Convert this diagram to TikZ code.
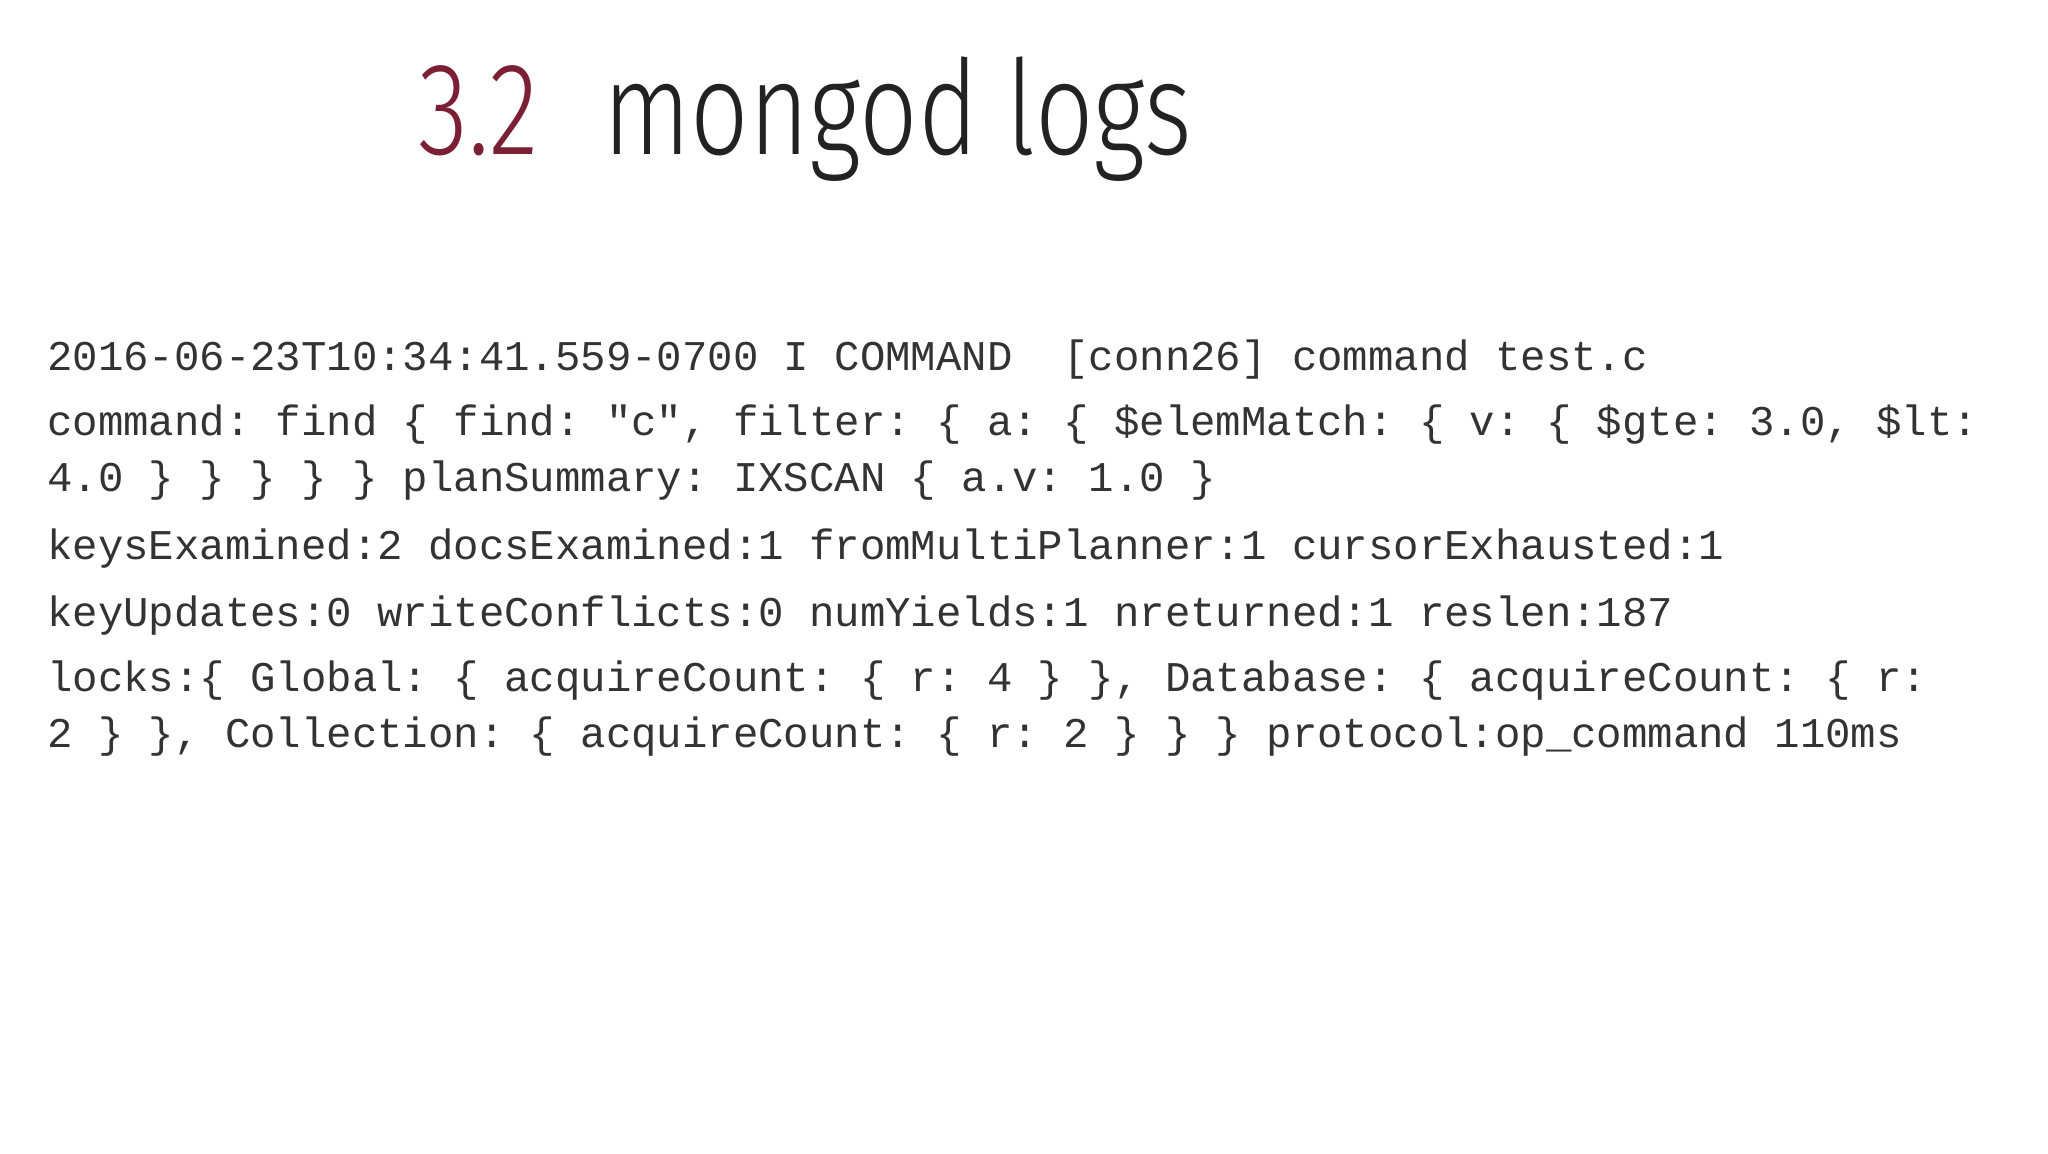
\documentclass[tikz,border=0pt]{standalone}
\usepackage{fontspec}
\setmonofont{Liberation Mono}
\newfontfamily\titlefont[FakeStretch=0.78]{Fira Sans Light}
\definecolor{titred}{HTML}{7B1F35}
\definecolor{titdark}{HTML}{222222}
\definecolor{logtxt}{HTML}{333333}
\begin{document}
\begin{tikzpicture}[x=1bp,y=-1bp,
  logline/.style={anchor=base west,inner sep=0pt,text=logtxt,font=\ttfamily\fontsize{42.5}{50}\selectfont},
  tit/.style={anchor=base west,inner sep=0pt,font=\titlefont\fontsize{132}{140}\selectfont}]
\fill[white] (0,0) rectangle (2048,1153);
\useasboundingbox (0,0) rectangle (2048,1153);
\node[tit,text=titred] (num) at (418,154) {3.2};
\node[tit,text=titdark] (head) at (603,154) {mongod logs};
\node[logline] (l1) at (47,370) {2016-06-23T10:34:41.559-0700 I COMMAND\ \ [conn26] command test.c};
\node[logline] (l2) at (47,435) {command: find \{ find: "c", filter: \{ a: \{ \$elemMatch: \{ v: \{ \$gte: 3.0, \$lt:};
\node[logline] (l3) at (47,491) {4.0 \} \} \} \} \} planSummary: IXSCAN \{ a.v: 1.0 \}};
\node[logline] (l4) at (47,559) {keysExamined:2 docsExamined:1 fromMultiPlanner:1 cursorExhausted:1};
\node[logline] (l5) at (47,626) {keyUpdates:0 writeConflicts:0 numYields:1 nreturned:1 reslen:187};
\node[logline] (l6) at (47,691) {locks:\{ Global: \{ acquireCount: \{ r: 4 \} \}, Database: \{ acquireCount: \{ r:};
\node[logline] (l7) at (47,747) {2 \} \}, Collection: \{ acquireCount: \{ r: 2 \} \} \} protocol:op\_command 110ms};
\end{tikzpicture}
\end{document}
